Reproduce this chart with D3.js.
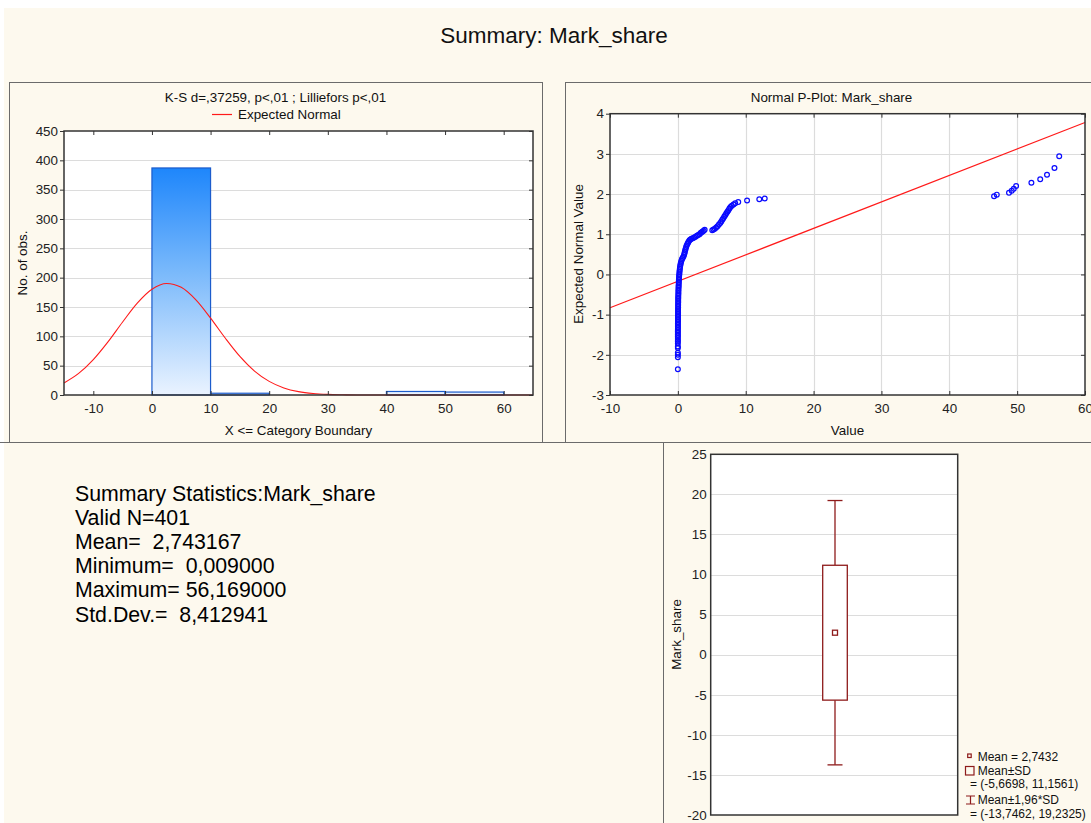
<!DOCTYPE html>
<html>
<head>
<meta charset="utf-8">
<script src="https://cdn.jsdelivr.net/npm/d3@7"></script>
<style>
  body { margin: 0; background: #fff; }
  svg { display: block; font-family: "Liberation Sans", Arial, sans-serif; }
</style>
</head>
<body>
<div id="chart"></div>
<script>
// ---- data ----
const mainTitle = "Summary: Mark_share";

// histogram (bin lower edges, width 10) and counts
const binStarts = [-10, 0, 10, 20, 30, 40, 50];
const binCounts = [0, 387, 3, 0, 0, 6, 5];
const histTicksX = [-10, 0, 10, 20, 30, 40, 50, 60];
const histTicksY = [0, 50, 100, 150, 200, 250, 300, 350, 400, 450];

// expected normal curve (counts per bin)
const normalX = [-15, -12.5, -10, -7.5, -5, -2.5, 0, 2.5, 5, 7.5, 10, 12.5, 15, 17.5, 20, 22.5, 25, 27.5, 30, 32.5, 35, 40, 50, 65];
const normalY = [20.6, 36.8, 60.4, 90.6, 124.5, 156.6, 180.3, 190.1, 183.5, 162.1, 131.1, 97.1, 65.8, 40.8, 23.2, 12.1, 5.8, 2.5, 1.0, 0.4, 0.1, 0, 0, 0];

// normal probability plot: [value, expected normal value]
const pPlotPoints = [
  [0, -2.36], [0, -2.06], [0, -2.0], [0, -1.95], [0, -1.83], [0, -1.79], [0, -1.72], [0, -1.67],
  [0, -1.63], [0, -1.58], [0, -1.54], [0, -1.5], [0, -1.46], [0, -1.42], [0, -1.38],
  [0.01, -1.34], [0.01, -1.3], [0.01, -1.26], [0.01, -1.22], [0.02, -1.18], [0.02, -1.14],
  [0.02, -1.1], [0.02, -1.06], [0.02, -1.02], [0.03, -0.98], [0.03, -0.94], [0.03, -0.9],
  [0.03, -0.86], [0.04, -0.82], [0.04, -0.78], [0.04, -0.74], [0.05, -0.7], [0.05, -0.66],
  [0.05, -0.62], [0.06, -0.58], [0.06, -0.54], [0.07, -0.5], [0.08, -0.46], [0.08, -0.42],
  [0.09, -0.38], [0.1, -0.34], [0.11, -0.3], [0.12, -0.26], [0.13, -0.22], [0.14, -0.18],
  [0.15, -0.14], [0.17, -0.1], [0.18, -0.06], [0.2, -0.02], [0.22, 0.02], [0.24, 0.06],
  [0.26, 0.1], [0.29, 0.14], [0.32, 0.18], [0.36, 0.22], [0.4, 0.26], [0.45, 0.3],
  [0.52, 0.34], [0.6, 0.38], [0.7, 0.41], [0.8, 0.44], [0.9, 0.48], [0.97, 0.52],
  [1.02, 0.56], [1.08, 0.6], [1.15, 0.64], [1.22, 0.68], [1.3, 0.72], [1.4, 0.76],
  [1.5, 0.79], [1.6, 0.82], [1.72, 0.85], [1.85, 0.87], [2.0, 0.89], [2.2, 0.9],
  [2.4, 0.92], [2.6, 0.94], [2.8, 0.96], [3.0, 0.98], [3.2, 1.0], [3.35, 1.03],
  [3.5, 1.05], [3.65, 1.07], [3.8, 1.09], [3.95, 1.11],
  [5.07, 1.1], [5.25, 1.12], [5.45, 1.14], [5.65, 1.17], [5.85, 1.2], [6.05, 1.24],
  [6.25, 1.28], [6.4, 1.32], [6.55, 1.36], [6.7, 1.4], [6.85, 1.44], [7.0, 1.48],
  [7.15, 1.52], [7.3, 1.56], [7.45, 1.6], [7.6, 1.64], [7.75, 1.68], [7.95, 1.71],
  [8.2, 1.74], [8.45, 1.77], [8.9, 1.8],
  [10.2, 1.84], [12.0, 1.87], [12.8, 1.89],
  [46.6, 1.945], [47.0, 1.985], [48.8, 2.03], [49.2, 2.08], [49.5, 2.13], [49.85, 2.2],
  [52.1, 2.28], [53.4, 2.37], [54.4, 2.48], [55.5, 2.65], [56.2, 2.94]
];
const pLineEnds = [[-10, -0.83], [60, 3.78]];
const pTicksX = [-10, 0, 10, 20, 30, 40, 50, 60];
const pTicksY = [-3, -2, -1, 0, 1, 2, 3, 4];

// summary statistics text
const summaryLines = [
  "Summary Statistics:Mark_share",
  "Valid N=401",
  "Mean=  2,743167",
  "Minimum=  0,009000",
  "Maximum= 56,169000",
  "Std.Dev.=  8,412941"
];

// box plot
const boxMean = 2.7432;
const boxSD = [-5.6698, 11.1561];
const boxCI = [-13.7462, 19.2325];
const boxTicksY = [-20, -15, -10, -5, 0, 5, 10, 15, 20, 25];
const boxLegend = ["Mean = 2,7432", "Mean\u00b1SD", "= (-5,6698, 11,1561)", "Mean\u00b11,96*SD", "= (-13,7462, 19,2325)"];

// ---- drawing ----
const width = 1091, height = 823;
const cream = "#fdf9ee";
const axisCol = "#333";
const gridCol = "#dcdcdc";
const fs = "13.4px";

const svg = d3.select("#chart").append("svg")
  .attr("width", width)
  .attr("height", height);

svg.append("rect").attr("x", 4).attr("y", 8)
  .attr("width", width).attr("height", height)
  .attr("fill", cream);

svg.append("text")
  .attr("x", 554).attr("y", 43)
  .attr("text-anchor", "middle")
  .style("font-size", "22.5px")
  .attr("fill", "#111")
  .text(mainTitle);

// panel borders
function panel(x, y, w, h) {
  svg.append("rect").attr("x", x + 0.5).attr("y", y + 0.5)
    .attr("width", w).attr("height", h)
    .attr("fill", cream).attr("stroke", "#6b6b6b");
}
panel(9, 82, 533, 360);
panel(565, 82, 540, 360);
svg.append("line").attr("x1", 0).attr("x2", 663).attr("y1", 442.5).attr("y2", 442.5)
  .attr("stroke", "#6b6b6b");
panel(663, 442, 440, 400);

function styleAxis(g) {
  g.selectAll(".domain").remove();
  g.selectAll(".tick line").attr("stroke", axisCol);
  g.selectAll(".tick text").attr("fill", "#222").style("font-size", fs)
    .style("font-family", "'Liberation Sans', Arial, sans-serif");
}

function plotFrame(x, y, gridX, gridY) {
  const [x0, x1] = x.range();
  const [y0, y1] = y.range();
  const g = svg.append("g");
  g.append("rect").attr("x", x0).attr("y", y1)
    .attr("width", x1 - x0).attr("height", y0 - y1).attr("fill", "#fff");
  if (gridY) {
    g.selectAll(".gy").data(gridY).enter().append("line")
      .attr("x1", x0).attr("x2", x1)
      .attr("y1", d => Math.round(y(d)) + 0.5).attr("y2", d => Math.round(y(d)) + 0.5)
      .attr("stroke", gridCol).attr("stroke-width", 1.2);
  }
  if (gridX) {
    g.selectAll(".gx").data(gridX).enter().append("line")
      .attr("y1", y0).attr("y2", y1)
      .attr("x1", d => Math.round(x(d)) + 0.5).attr("x2", d => Math.round(x(d)) + 0.5)
      .attr("stroke", gridCol).attr("stroke-width", 1.2);
  }
  return g;
}

function plotAxes(x, y, ticksX, ticksY, padL) {
  const [x0, x1] = x.range();
  const [y0, y1] = y.range();
  svg.append("g").attr("transform", `translate(0,${y0})`)
    .call(d3.axisBottom(x).tickValues(ticksX).tickSize(-4).tickPadding(8).tickFormat(d => String(d)))
    .call(styleAxis);
  svg.append("g").attr("transform", `translate(0,${y1})`)
    .call(d3.axisTop(x).tickValues(ticksX).tickSize(-4).tickFormat(""))
    .call(styleAxis);
  svg.append("g").attr("transform", `translate(${x0},0)`)
    .call(d3.axisLeft(y).tickValues(ticksY).tickSize(4).tickPadding(padL).tickFormat(d => String(d)))
    .call(styleAxis);
  svg.append("g").attr("transform", `translate(${x1},0)`)
    .call(d3.axisRight(y).tickValues(ticksY).tickSize(-4).tickFormat(""))
    .call(styleAxis);
  svg.append("rect").attr("x", x0).attr("y", y1)
    .attr("width", x1 - x0).attr("height", y0 - y1)
    .attr("fill", "none").attr("stroke", axisCol).attr("stroke-width", 1.5);
}

// ---------- histogram ----------
const hx = d3.scaleLinear().domain([-15, 65]).range([64, 533]);
const hy = d3.scaleLinear().domain([0, 450]).range([395, 131]);

plotFrame(hx, hy, null, histTicksY.slice(1, -1));

const defs = svg.append("defs");
const grad = defs.append("linearGradient").attr("id", "barGrad")
  .attr("gradientUnits", "userSpaceOnUse")
  .attr("x1", 0).attr("x2", 0)
  .attr("y1", hy(d3.max(binCounts))).attr("y2", hy(0));
grad.append("stop").attr("offset", "0%").attr("stop-color", "#1e86fb");
grad.append("stop").attr("offset", "45%").attr("stop-color", "#78b8fb");
grad.append("stop").attr("offset", "100%").attr("stop-color", "#eaf3ff");

svg.selectAll(".bar")
  .data(binStarts.map((b, i) => ({ x0: b, x1: b + 10, n: binCounts[i] })))
  .enter().append("rect")
  .attr("class", "bar")
  .attr("x", d => hx(d.x0))
  .attr("width", d => hx(d.x1) - hx(d.x0))
  .attr("y", d => hy(d.n))
  .attr("height", d => hy(0) - hy(d.n))
  .attr("fill", "url(#barGrad)")
  .attr("stroke", "#1c5ccc")
  .attr("stroke-width", 1.2);

svg.append("path")
  .datum(normalX.map((x, i) => [x, normalY[i]]))
  .attr("fill", "none")
  .attr("stroke", "#ff1a1a")
  .attr("stroke-width", 1.1)
  .attr("d", d3.line().x(d => hx(d[0])).y(d => hy(d[1])).curve(d3.curveMonotoneX));

plotAxes(hx, hy, histTicksX, histTicksY, 2);

svg.append("text").attr("x", 275.5).attr("y", 101.5).attr("text-anchor", "middle")
  .style("font-size", fs).attr("fill", "#111")
  .text("K-S d=,37259, p<,01 ; Lilliefors p<,01");
svg.append("line").attr("x1", 212).attr("x2", 232).attr("y1", 114.5).attr("y2", 114.5)
  .attr("stroke", "#ff1a1a").attr("stroke-width", 1.2);
svg.append("text").attr("x", 238).attr("y", 119).style("font-size", fs).attr("fill", "#111")
  .text("Expected Normal");
svg.append("text").attr("x", 298.5).attr("y", 435).attr("text-anchor", "middle")
  .style("font-size", fs).attr("fill", "#111")
  .text("X <= Category Boundary");
svg.append("text").attr("transform", "translate(27,263) rotate(-90)")
  .attr("text-anchor", "middle").style("font-size", fs).attr("fill", "#111")
  .text("No. of obs.");

// ---------- normal probability plot ----------
const px = d3.scaleLinear().domain([-10, 60]).range([610, 1085]);
const py = d3.scaleLinear().domain([-3, 4]).range([395, 113.7]);

plotFrame(px, py, pTicksX.slice(1, -1), pTicksY.slice(1, -1));

svg.append("line")
  .attr("x1", px(pLineEnds[0][0])).attr("y1", py(pLineEnds[0][1]))
  .attr("x2", px(pLineEnds[1][0])).attr("y2", py(pLineEnds[1][1]))
  .attr("stroke", "#ff1a1a").attr("stroke-width", 1.2);

svg.selectAll(".pt")
  .data(pPlotPoints)
  .enter().append("circle")
  .attr("class", "pt")
  .attr("cx", d => px(d[0]))
  .attr("cy", d => py(d[1]))
  .attr("r", 2.4)
  .attr("fill", "none")
  .attr("stroke", "#0a0aff")
  .attr("stroke-width", 1.2);

plotAxes(px, py, pTicksX, pTicksY, 2);

svg.append("text").attr("x", 831.5).attr("y", 101.5).attr("text-anchor", "middle")
  .style("font-size", fs).attr("fill", "#111")
  .text("Normal P-Plot: Mark_share");
svg.append("text").attr("x", 847.5).attr("y", 435).attr("text-anchor", "middle")
  .style("font-size", fs).attr("fill", "#111")
  .text("Value");
svg.append("text").attr("transform", "translate(583,254) rotate(-90)")
  .attr("text-anchor", "middle").style("font-size", fs).attr("fill", "#111")
  .text("Expected Normal Value");

// ---------- summary text ----------
svg.selectAll(".sum")
  .data(summaryLines)
  .enter().append("text")
  .attr("class", "sum")
  .attr("x", 75)
  .attr("y", (d, i) => 500.5 + i * 24.2)
  .style("font-size", "21.3px")
  .style("white-space", "pre")
  .attr("fill", "#000")
  .text(d => d);

// ---------- box plot ----------
const boxCol = "#8e1b1b";
const by = d3.scaleLinear().domain([-20, 25]).range([815, 454.3]);
const bx = d3.scalePoint().domain(["Mark_share"]).range([710.7, 957.7]).padding(0.5);

const bxFrame = d3.scaleLinear().domain([0, 1]).range([710.7, 957.7]);
plotFrame(bxFrame, by, null, boxTicksY.slice(1, -1));

const cx = bx("Mark_share") + 0.8;
const boxW = 24.6, capW = 15;
const bg = svg.append("g").attr("stroke", boxCol).attr("stroke-width", 1.3).attr("fill", "none");
bg.append("line").attr("x1", cx).attr("x2", cx).attr("y1", by(boxSD[1])).attr("y2", by(boxCI[1]));
bg.append("line").attr("x1", cx).attr("x2", cx).attr("y1", by(boxSD[0])).attr("y2", by(boxCI[0]));
bg.append("line").attr("x1", cx - capW / 2).attr("x2", cx + capW / 2).attr("y1", by(boxCI[1])).attr("y2", by(boxCI[1]));
bg.append("line").attr("x1", cx - capW / 2).attr("x2", cx + capW / 2).attr("y1", by(boxCI[0])).attr("y2", by(boxCI[0]));
bg.append("rect").attr("x", cx - boxW / 2).attr("width", boxW)
  .attr("y", by(boxSD[1])).attr("height", by(boxSD[0]) - by(boxSD[1])).attr("fill", "#fff");
bg.append("rect").attr("x", cx - 2.5).attr("y", by(boxMean) - 2.5).attr("width", 5).attr("height", 5);

svg.append("g").attr("transform", "translate(710.7,0)")
  .call(d3.axisLeft(by).tickValues(boxTicksY).tickSize(0).tickPadding(4).tickFormat(d => String(d)))
  .call(styleAxis);
svg.append("rect").attr("x", 710.7).attr("y", 454.3).attr("width", 247).attr("height", 815 - 454.3)
  .attr("fill", "none").attr("stroke", axisCol).attr("stroke-width", 1.5);

svg.append("text").attr("transform", "translate(680.5,634.5) rotate(-90)")
  .attr("text-anchor", "middle").style("font-size", fs).attr("fill", "#111")
  .text("Mark_share");

// legend
const lg = svg.append("g").style("font-size", "12px").attr("fill", "#111");
lg.append("rect").attr("x", 967.7).attr("y", 754).attr("width", 3.5).attr("height", 3.5)
  .attr("fill", "none").attr("stroke", boxCol).attr("stroke-width", 1.2);
lg.append("rect").attr("x", 965.5).attr("y", 766.5).attr("width", 8.5).attr("height", 8.5)
  .attr("fill", "none").attr("stroke", boxCol).attr("stroke-width", 1.2);
lg.append("path").attr("d", "M966,796H975M970.5,796V804M966,804H975")
  .attr("fill", "none").attr("stroke", boxCol).attr("stroke-width", 1.2);
const legY = [761, 775, 788, 803.5, 817.5];
const legX = [977.7, 977.7, 970, 977.7, 970];
lg.selectAll(".lt").data(boxLegend).enter().append("text")
  .attr("x", (d, i) => legX[i]).attr("y", (d, i) => legY[i])
  .text(d => d);
</script>
</body>
</html>
